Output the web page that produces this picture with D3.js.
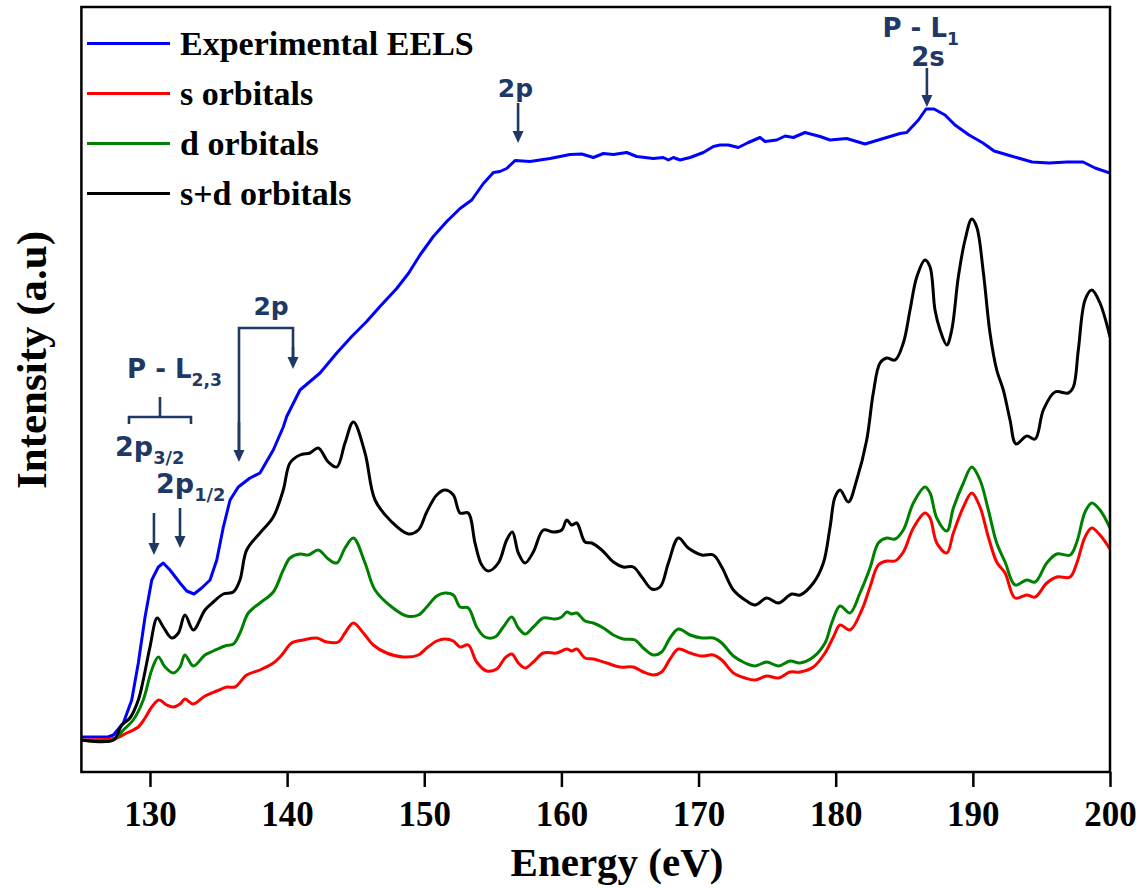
<!DOCTYPE html>
<html>
<head>
<meta charset="utf-8">
<script src="https://cdn.jsdelivr.net/npm/d3@7"></script>
<style>
  html, body { margin: 0; padding: 0; background: #fff; }
  svg { display: block; }
</style>
</head>
<body>
<svg id="chart" width="1146" height="888"></svg>
<script>
// ---- Spectra (energy in eV, intensity in arbitrary units) ----
const eelsEnergy = [125.00,126.94,127.33,128.06,128.67,129.15,129.64,130.13,130.61,130.97,
  131.46,132.19,132.68,133.21,133.77,134.38,134.87,135.35,135.84,136.44,
  137.29,138.02,138.99,139.72,139.97,140.94,142.40,143.62,144.71,145.80,
  146.77,147.99,148.84,149.69,150.66,151.64,152.61,153.46,154.31,155.04,
  155.52,156.01,156.62,157.71,158.44,159.17,160.63,161.48,162.33,163.06,
  163.79,164.76,165.49,166.70,167.43,167.80,168.16,168.65,169.38,170.35,
  171.08,171.57,172.17,172.90,173.63,174.48,174.85,175.70,176.31,176.91,
  177.76,178.86,179.59,180.80,182.14,183.23,184.69,185.18,186.03,186.59,
  187.17,187.97,188.70,189.72,190.74,191.55,192.79,194.32,195.56,196.87,
  198.04,198.91,200.00];
const eelsIntensity = [7.0,7.0,7.4,9.8,14.4,21.8,31.0,38.4,41.0,41.8,
  40.4,37.8,36.2,35.6,36.8,38.4,42.4,49.0,54.4,57.0,
  58.8,59.8,64.4,69.0,71.1,76.4,79.8,83.8,87.1,90.1,
  93.1,96.7,99.7,103.4,107.1,110.1,112.7,114.4,117.7,119.9,
  120.1,120.7,122.3,122.1,122.4,122.7,123.5,123.6,122.9,123.7,
  123.5,123.9,123.1,122.7,122.9,122.4,122.9,122.4,122.9,123.9,
  125.1,125.4,125.4,124.9,125.9,126.9,126.1,126.4,127.2,126.9,
  127.9,127.1,126.4,126.7,125.6,126.5,127.7,127.9,130.4,132.6,
  132.6,131.4,129.4,127.4,125.8,124.2,123.2,122.0,121.8,122.0,
  122.0,120.8,119.8];

const sEnergy = [125.00,127.57,128.30,129.15,129.64,130.13,130.66,131.22,131.70,132.19,
  132.55,133.16,134.01,134.87,135.60,136.20,137.05,138.02,138.99,139.61,
  140.33,141.18,142.16,142.89,143.73,144.22,144.83,145.56,146.28,147.26,
  148.47,149.57,150.18,150.91,151.51,152.12,152.61,153.21,153.82,154.55,
  155.28,155.89,156.38,156.86,157.35,157.95,158.68,159.66,160.39,160.75,
  161.12,161.72,162.33,163.30,164.27,165.24,165.97,166.70,167.31,167.92,
  168.53,169.38,170.23,171.08,171.69,172.54,173.39,174.12,174.97,175.82,
  176.67,177.40,178.37,179.22,179.83,180.32,181.04,181.90,182.50,183.11,
  183.72,184.33,184.93,185.66,186.51,186.88,187.37,188.10,188.58,189.31,
  189.92,190.52,191.13,191.74,192.35,193.08,193.93,194.54,195.39,196.12,
  197.09,197.58,198.18,198.67,199.27,200.00];
const sIntensity = [6.4,6.8,7.8,9.0,10.8,13.0,14.4,13.4,13.0,13.6,
  14.6,13.6,15.2,16.2,17.0,17.0,19.4,20.4,21.8,23.4,
  25.8,26.4,26.8,26.0,26.0,27.8,29.8,27.8,25.4,23.8,
  23.0,23.4,24.8,26.2,26.6,26.2,25.0,25.4,22.0,20.2,
  20.6,22.8,23.6,21.8,20.8,22.0,23.8,23.8,24.6,24.2,
  24.6,22.8,22.6,21.8,21.0,21.0,20.0,19.4,20.0,22.6,
  24.6,23.8,23.2,23.4,22.4,19.8,18.8,18.4,19.2,18.8,
  20.0,20.0,21.0,23.8,27.0,29.4,28.4,32.4,37.0,41.4,
  42.2,42.2,44.0,48.8,51.8,50.8,45.8,43.8,47.8,53.0,
  55.8,53.0,47.0,42.0,39.8,34.8,35.4,35.0,37.8,39.0,
  39.0,41.8,47.0,48.8,47.4,44.6];

const dEnergy = [125.00,127.33,128.06,128.78,129.51,130.13,130.61,131.10,131.70,132.19,
  132.55,133.16,134.01,134.62,135.47,136.08,136.56,137.17,138.02,138.99,
  139.72,140.21,140.94,141.55,142.27,143.00,143.62,144.22,144.83,145.68,
  146.41,147.63,148.72,149.57,150.18,150.91,151.51,152.12,152.61,153.21,
  153.82,154.43,155.16,155.76,156.38,156.86,157.35,157.95,158.68,159.53,
  160.02,160.39,160.75,161.12,161.72,162.33,163.06,163.79,164.51,165.37,
  165.97,166.70,167.31,167.92,168.53,169.38,170.23,171.08,171.69,172.54,
  173.39,174.12,174.97,175.82,176.67,177.40,178.37,179.22,179.71,180.32,
  181.04,181.77,182.50,183.11,183.72,184.33,184.93,185.66,186.51,186.88,
  187.37,188.10,188.58,189.31,189.92,190.52,191.13,191.74,192.35,193.08,
  193.93,194.54,195.39,196.12,197.09,197.58,198.18,198.67,199.27,200.00];
const dIntensity = [6.4,6.4,8.4,10.4,14.4,20.4,23.0,21.0,19.8,21.0,
  23.4,21.2,23.4,24.2,25.2,25.6,27.8,31.8,33.8,36.0,
  40.4,42.8,43.6,43.4,44.4,42.6,41.8,44.8,46.8,41.8,
  36.4,33.0,31.2,31.4,33.0,35.2,35.8,35.4,33.0,32.8,
  29.0,27.0,27.0,29.0,31.0,28.8,27.6,29.0,30.8,30.6,
  31.0,32.0,31.6,31.8,30.2,29.8,28.8,27.4,26.6,26.4,
  24.8,23.4,24.0,26.8,28.6,27.4,26.8,26.8,25.8,23.2,
  21.8,21.2,22.0,21.2,22.2,21.8,23.0,25.8,29.8,33.2,
  31.8,35.8,40.8,45.8,46.8,46.6,48.4,53.8,57.0,55.8,
  50.8,48.2,52.8,57.8,61.0,58.4,52.4,45.8,42.0,37.4,
  38.4,38.0,41.8,43.6,43.4,46.0,52.0,53.8,52.4,48.8];

const sdEnergy = [125.00,127.33,127.94,128.54,129.15,129.51,130.00,130.53,130.97,131.58,
  132.07,132.55,133.16,134.01,134.62,135.35,136.08,136.56,137.05,138.02,
  138.99,139.72,140.21,140.94,141.67,142.27,143.00,143.62,144.22,144.83,
  145.68,146.41,147.63,148.84,149.57,150.18,150.91,151.51,152.12,152.61,
  153.21,153.70,154.19,154.67,155.40,156.01,156.42,156.86,157.35,157.95,
  158.68,159.41,160.02,160.39,160.75,161.12,161.72,162.21,162.94,163.79,
  164.51,165.24,165.86,166.59,167.19,167.80,168.53,169.25,170.23,171.08,
  171.69,172.54,173.39,174.12,174.97,175.82,176.79,177.40,178.37,179.10,
  179.59,179.95,180.32,180.92,181.53,182.26,182.74,183.23,183.72,184.33,
  184.93,185.42,185.91,186.51,186.88,187.24,187.61,188.10,188.46,188.94,
  189.43,189.92,190.28,190.77,191.25,191.74,192.22,192.71,193.15,193.93,
  194.54,195.14,195.99,196.96,197.33,197.69,198.18,198.67,199.27,200.00];
const sdIntensity = [6.4,6.4,9.4,10.8,14.4,18.4,25.0,30.8,29.0,26.8,
  27.8,31.4,28.4,32.4,34.0,35.6,36.0,38.4,44.4,47.8,
  51.0,56.4,61.8,63.4,63.8,64.8,62.0,61.0,65.8,70.0,
  63.8,54.4,50.0,47.6,48.4,52.0,55.4,56.4,55.4,51.8,
  51.8,45.8,41.4,40.2,41.8,46.4,48.0,43.8,41.8,44.0,
  48.4,48.0,48.4,50.4,49.4,49.8,46.0,45.8,44.4,42.0,
  41.0,41.0,39.0,36.6,37.0,41.8,46.8,44.8,43.4,43.4,
  41.0,36.4,34.4,33.4,34.8,33.8,35.6,35.4,37.8,41.8,
  49.0,55.0,56.4,54.0,58.4,66.4,75.8,81.8,82.8,82.4,
  85.8,92.4,99.0,102.4,101.0,92.4,88.4,85.4,88.4,99.0,
  106.4,110.6,109.0,99.8,87.8,80.4,76.4,70.4,65.6,67.2,
  66.6,72.4,76.0,75.8,77.0,84.4,94.4,96.4,93.8,87.0];

const seriesNames = ["Experimental EELS", "s orbitals", "d orbitals", "s+d orbitals"];
const seriesColors = ["#0000ff", "#ff0000", "#008000", "#000000"];
const energyTicks = [130, 140, 150, 160, 170, 180, 190, 200];

// ---- Layout ----
const plot = { left: 81.4, right: 1110, top: 7, bottom: 772 };
const serif = "'Liberation Serif', 'Times New Roman', serif";
const annoFont = "'DejaVu Sans', sans-serif";
const annoColor = "#1f3864";

const svg = d3.select("#chart");

const x = d3.scaleLinear().domain([125, 200]).range([plot.left, plot.right]);
const y = d3.scaleLinear().domain([0, 153]).range([plot.bottom, plot.top]);

svg.append("defs").append("clipPath").attr("id", "plot-clip")
  .append("rect")
  .attr("x", plot.left).attr("y", plot.top)
  .attr("width", plot.right - plot.left).attr("height", plot.bottom - plot.top);

// ---- Curves ----
const series = [
  { name: seriesNames[0], color: seriesColors[0], e: eelsEnergy, v: eelsIntensity, curve: d3.curveLinear },
  { name: seriesNames[1], color: seriesColors[1], e: sEnergy, v: sIntensity, curve: d3.curveCatmullRom.alpha(0.5) },
  { name: seriesNames[2], color: seriesColors[2], e: dEnergy, v: dIntensity, curve: d3.curveCatmullRom.alpha(0.5) },
  { name: seriesNames[3], color: seriesColors[3], e: sdEnergy, v: sdIntensity, curve: d3.curveCatmullRom.alpha(0.5) }
];

const curves = svg.append("g").attr("clip-path", "url(#plot-clip)");
series.forEach(s => {
  const pts = d3.zip(s.e, s.v);
  curves.append("path")
    .datum(pts)
    .attr("fill", "none")
    .attr("stroke", s.color)
    .attr("stroke-width", 3)
    .attr("stroke-linejoin", "round")
    .attr("stroke-linecap", "round")
    .attr("d", d3.line().x(d => x(d[0])).y(d => y(d[1])).curve(s.curve));
});

// ---- Frame and axis ----
svg.append("rect")
  .attr("x", plot.left).attr("y", plot.top)
  .attr("width", plot.right - plot.left).attr("height", plot.bottom - plot.top)
  .attr("fill", "none").attr("stroke", "#000").attr("stroke-width", 2.5);

const xAxis = svg.append("g")
  .attr("transform", `translate(0,${plot.bottom})`)
  .call(d3.axisBottom(x).tickValues(energyTicks).tickSize(15).tickSizeOuter(0).tickPadding(14));
xAxis.select(".domain").remove();
xAxis.selectAll(".tick line").attr("stroke", "#000").attr("stroke-width", 2.5);
xAxis.selectAll(".tick text")
  .attr("fill", "#000")
  .style("font-family", serif)
  .style("font-weight", "bold")
  .style("font-size", "35px");

svg.append("text")
  .attr("x", 617).attr("y", 876)
  .attr("text-anchor", "middle")
  .style("font-family", serif).style("font-weight", "bold").style("font-size", "41px")
  .text("Energy (eV)");

svg.append("text")
  .attr("transform", "translate(46,360) rotate(-90)")
  .attr("text-anchor", "middle")
  .style("font-family", serif).style("font-weight", "bold").style("font-size", "43px")
  .text("Intensity (a.u)");

// ---- Legend ----
const legend = svg.append("g");
series.forEach((s, i) => {
  const ly = 43.5 + i * 50;
  legend.append("line")
    .attr("x1", 87).attr("x2", 170).attr("y1", ly).attr("y2", ly)
    .attr("stroke", s.color).attr("stroke-width", 3);
  legend.append("text")
    .attr("x", 180).attr("y", ly + 11.5)
    .style("font-family", serif).style("font-weight", "bold").style("font-size", "34px")
    .attr("fill", "#000")
    .text(s.name);
});

// ---- Edge annotations ----
const anno = svg.append("g").attr("fill", annoColor).attr("stroke", annoColor);

function arrow(e, v0, v1) {
  const px = x(e), y0 = y(v0), y1 = y(v1);
  anno.append("line")
    .attr("x1", px).attr("x2", px).attr("y1", y0).attr("y2", y1 - 8)
    .attr("stroke-width", 2.6);
  anno.append("path")
    .attr("stroke", "none")
    .attr("d", `M${px - 5.5},${y1 - 12} L${px + 5.5},${y1 - 12} L${px},${y1} Z`);
}

function label(e, v, main, sub, size, anchor) {
  const t = anno.append("text")
    .attr("x", x(e)).attr("y", y(v))
    .attr("text-anchor", anchor || "middle")
    .attr("stroke", "none")
    .style("font-family", annoFont).style("font-weight", "bold")
    .style("font-size", size + "px");
  t.append("tspan").text(main);
  if (sub) {
    t.append("tspan").attr("dy", size * 0.3).style("font-size", (size * 0.66) + "px").text(sub);
  }
  return t;
}

// P - L1 edge (2s)
label(186.2, 147, "P - L", "1", 26);
label(186.73, 141.2, "2s", null, 26);
arrow(186.65, 140.8, 133);

// 2p onset of the plateau
label(156.65, 135, "2p", null, 25);
arrow(156.84, 133.8, 125.8);

// 2p bracket near 137–140 eV
label(138.83, 91.4, "2p", null, 25);
anno.append("path")
  .attr("fill", "none").attr("stroke-width", 2.6)
  .attr("d", `M${x(136.49)},${y(62) - 8} L${x(136.49)},${y(88.8)} L${x(140.43)},${y(88.8)} L${x(140.43)},${y(80.6) - 8}`);
arrow(136.49, 70, 62);
arrow(140.43, 85, 80.6);

// P - L2,3 edge
label(128.33, 78.8, "P - L", "2,3", 26, "start");
anno.append("path")
  .attr("fill", "none").attr("stroke-width", 2.6)
  .attr("d", `M${x(130.73)},${y(75)} L${x(130.73)},${y(71)} M${x(128.47)},${y(69.6)} L${x(128.47)},${y(71)} L${x(132.99)},${y(71)} L${x(132.99)},${y(69.6)}`);
label(127.45, 63.2, "2p", "3/2", 27, "start");
label(130.44, 55.8, "2p", "1/2", 27, "start");
arrow(130.29, 51.8, 43.4);
arrow(132.19, 52.8, 44.8);
</script>
</body>
</html>
